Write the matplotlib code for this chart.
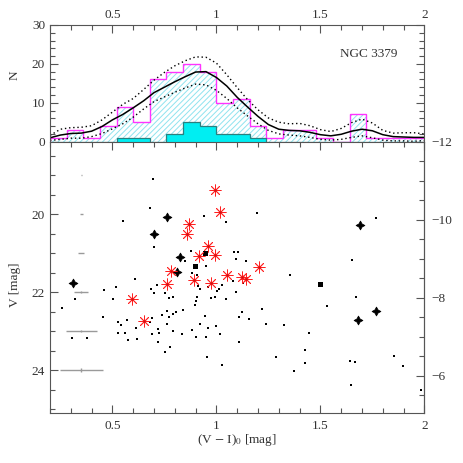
import numpy as np
import matplotlib
matplotlib.use('Agg')
import matplotlib.pyplot as plt
from matplotlib.ticker import MultipleLocator

plt.rcParams['font.family'] = ['Liberation Serif', 'DejaVu Serif']
plt.rcParams['mathtext.fontset'] = 'stix'
plt.rcParams['hatch.linewidth'] = 0.7
plt.rcParams['hatch.color'] = '#8fe3ef'

# histogram bins (V-I)_0, width 0.08
bin_edges = [0.20, 0.28, 0.36, 0.44, 0.52, 0.60, 0.68, 0.76, 0.84, 0.92, 1.00, 1.08,
             1.16, 1.24, 1.32, 1.40, 1.48, 1.56, 1.64, 1.72, 1.80, 1.88, 1.96, 2.04]
n_all = [1, 3, 1, 4, 9, 5, 16, 18, 20, 18, 10, 11, 4, 1, 3, 3, 1, 0, 7, 1, 1, 1, 1]
n_sel = [0, 0, 0, 0, 1, 1, 0, 2, 5, 4, 2, 2, 1, 0, 0, 0, 0, 0, 0, 0, 0, 0, 0]

# smoothed distribution and its bounds
x_curve = [0.20, 0.25, 0.30, 0.35, 0.40, 0.45, 0.50, 0.55, 0.60, 0.65, 0.70, 0.75,
           0.80, 0.85, 0.90, 0.95, 1.00, 1.05, 1.10, 1.15, 1.20, 1.25, 1.30, 1.35,
           1.40, 1.45, 1.50, 1.55, 1.60, 1.65, 1.70, 1.75, 1.80, 1.85, 1.90, 1.95, 2.00]
n_smooth = [1.0, 1.7, 2.1, 2.2, 2.7, 3.9, 5.6, 7.0, 8.7, 10.5, 12.6, 14.0,
            15.4, 16.7, 17.9, 18.0, 16.5, 14.3, 11.4, 8.9, 6.5, 4.4, 3.2, 2.9,
            2.8, 2.4, 1.8, 1.5, 1.9, 2.7, 3.2, 2.8, 1.8, 1.3, 1.2, 1.1, 1.1]
n_upper = [1.6, 3.2, 3.6, 3.7, 4.1, 5.6, 7.6, 9.6, 11.1, 13.4, 15.8, 17.8,
           19.5, 20.8, 21.8, 21.7, 20.2, 17.2, 13.9, 10.8, 8.2, 6.1, 5.0, 4.6,
           4.7, 4.1, 3.1, 2.6, 3.4, 4.9, 5.8, 4.8, 2.9, 2.2, 2.3, 2.3, 2.0]
n_lower = [0.3, 0.6, 0.9, 0.9, 1.3, 2.1, 3.3, 4.6, 6.3, 8.4, 10.3, 11.5,
           12.7, 13.8, 14.8, 14.6, 13.2, 11.1, 8.7, 6.6, 4.6, 2.9, 2.0, 1.7,
           1.5, 1.1, 0.6, 0.4, 0.6, 1.1, 1.5, 1.0, 0.4, 0.2, 0.2, 0.1, 0.3]

# colour-magnitude diagram: small dots
dot_vi = [0.695, 0.681, 0.549, 0.700, 0.611, 0.516, 0.462, 0.686, 0.714, 0.940,
          1.046, 1.195, 0.878, 1.086, 1.102, 1.093, 1.144, 0.850, 0.950, 0.881,
          0.905, 1.765, 1.650, 1.354, 1.669, 1.078, 1.129, 1.093, 1.218, 1.533,
          1.238, 1.325, 1.445, 1.426, 1.285, 1.425, 1.374, 1.642, 1.664, 1.854,
          1.896, 1.646, 1.983, 0.700, 0.753, 0.770, 0.789, 0.913, 0.919, 0.961,
          1.025, 1.014, 1.003, 0.905, 0.903, 0.895, 0.975, 0.993, 1.046, 1.123,
          1.109, 1.158, 0.839, 0.806, 0.789, 0.774, 0.762, 0.737, 0.692, 0.683,
          0.763, 0.945, 0.923, 0.960, 0.996, 0.883, 0.721, 0.724, 0.690, 0.790,
          0.836, 0.902, 0.949, 1.016, 1.108, 0.718, 0.778, 0.754, 0.955, 1.025,
          0.258, 0.320, 0.503, 0.455, 0.307, 0.379, 0.527, 0.541, 0.571, 0.613,
          0.527, 0.559, 0.574, 0.617]
dot_v = [19.10, 19.85, 20.18, 20.85, 21.67, 21.86, 21.94, 21.92, 21.81, 20.06,
         20.21, 19.97, 20.94, 20.97, 20.97, 21.15, 21.21, 21.20, 21.33, 21.51,
         21.56, 20.09, 21.19, 21.57, 22.14, 21.73, 21.78, 22.00, 22.43, 22.36,
         22.83, 22.85, 23.05, 23.49, 23.66, 23.83, 24.02, 23.77, 23.80, 23.65,
         23.90, 24.38, 24.51, 22.03, 22.03, 22.16, 22.14, 21.85, 21.91, 21.86,
         21.81, 21.91, 21.97, 22.12, 22.22, 22.32, 22.15, 22.13, 22.19, 22.51,
         22.65, 22.70, 22.47, 22.51, 22.56, 22.63, 22.49, 22.59, 22.67, 22.78,
         22.83, 22.62, 22.82, 22.93, 22.86, 22.97, 22.94, 23.04, 23.07, 22.99,
         23.07, 23.15, 23.15, 23.07, 23.29, 23.29, 23.42, 23.54, 23.67, 23.87,
         22.40, 22.19, 22.17, 22.65, 23.19, 23.17, 22.77, 22.84, 22.72, 22.92,
         23.04, 23.06, 23.24, 23.20]

# four-pointed stars
star_vi = [0.763, 0.701, 0.825, 0.811, 0.309, 1.691, 1.768, 1.683]
star_v = [20.07, 20.52, 21.10, 21.49, 21.78, 20.29, 22.49, 22.73]

# filled squares
sq_vi = [0.944, 0.897, 1.498]
sq_v = [21.01, 21.33, 21.79]

# red asterisks
ast_vi = [0.991, 1.018, 0.868, 0.860, 0.960, 0.915, 0.992, 0.782, 1.051, 0.891,
          0.973, 0.763, 1.125, 1.144, 1.205, 0.592, 0.653]
ast_v = [19.39, 19.95, 20.26, 20.52, 20.82, 21.07, 21.04, 21.46, 21.56, 21.68,
         21.78, 21.79, 21.61, 21.67, 21.36, 22.19, 22.74]

# typical photometric errors
err_v = [19, 20, 21, 22, 23, 24]
err_vi = [0.003, 0.008, 0.013, 0.034, 0.075, 0.103]
err_mag = [0.003, 0.005, 0.01, 0.02, 0.03, 0.05]
err_x = 0.35

dist_mod = 30.15

axcol = '#555555'
txtcol = '#333333'

fig = plt.figure(figsize=(4.63, 4.63), dpi=100)
ax_h = fig.add_axes([0.108, 0.694, 0.8086, 0.2521])
ax = fig.add_axes([0.108, 0.1086, 0.8086, 0.5853])

# ---- histogram panel ----
ax_h.stairs(n_all, bin_edges, fill=True, facecolor='none', edgecolor='#8fe3ef',
            hatch='//////', linewidth=0)
ax_h.stairs(n_all, bin_edges, color='#ff33ff', linewidth=1.0)
ax_h.stairs(n_sel, bin_edges, fill=True, facecolor='#00eef2', edgecolor='none')
ax_h.stairs(n_sel, bin_edges, color='#2b7f7f', linewidth=0.9)
ax_h.plot(x_curve, n_smooth, color='black', lw=1.1)
ax_h.plot(x_curve, n_upper, color='black', lw=1.0, linestyle=(0, (1, 2)))
ax_h.plot(x_curve, n_lower, color='black', lw=1.0, linestyle=(0, (1, 2)))
ax_h.set_xlim(0.2, 2.0)
ax_h.set_ylim(0, 30)
ax_h.xaxis.set_major_locator(MultipleLocator(0.5))
ax_h.xaxis.set_minor_locator(MultipleLocator(0.1))
ax_h.yaxis.set_major_locator(MultipleLocator(10))
ax_h.yaxis.set_minor_locator(MultipleLocator(2))
ax_h.tick_params(which='both', direction='in', top=True, bottom=False, right=True,
                 labeltop=True, labelbottom=False, colors=axcol, labelcolor=txtcol,
                 labelsize=9.5, width=0.8)
ax_h.tick_params(which='major', length=6)
ax_h.tick_params(which='minor', length=3.5)
ax_h.tick_params(axis='x', pad=3)
ax_h.xaxis.set_major_formatter(plt.FuncFormatter(lambda v, p: f'{v:g}'))
ax_h.text(0.85, 0.75, 'NGC 3379', transform=ax_h.transAxes, ha='center', va='center',
          fontsize=9.5, color=txtcol)
for s in ax_h.spines.values():
    s.set_color(axcol)
    s.set_linewidth(0.8)
ax_h.spines['bottom'].set_visible(False)

# ---- colour-magnitude diagram ----
ax.errorbar([err_x] * len(err_v), err_v, xerr=err_vi, yerr=err_mag, fmt='none',
            ecolor='#9a9a9a', elinewidth=1.0, capsize=0)
ax.plot(dot_vi, dot_v, 's', color='black', ms=1.5, mew=0)
ax.plot(sq_vi, sq_v, 's', color='black', ms=3.6, mew=0)
ax.plot(star_vi, star_v, marker=(4, 1, 0), linestyle='none', color='black', ms=6.5, mew=0.5)
ax.plot(ast_vi, ast_v, marker=(8, 2, 0), linestyle='none', color='#ff2020', ms=8.5, mew=0.6)
ax.plot(ast_vi, ast_v, 'o', color='#cc1010', ms=1.6, mew=0)
ax.set_xlim(0.2, 2.0)
ax.set_ylim(25.095, 18.146)
ax.xaxis.set_major_locator(MultipleLocator(0.5))
ax.xaxis.set_minor_locator(MultipleLocator(0.1))
ax.yaxis.set_major_locator(MultipleLocator(2))
ax.yaxis.set_minor_locator(MultipleLocator(0.5))
ax.xaxis.set_major_formatter(plt.FuncFormatter(lambda v, p: f'{v:g}'))
ax.tick_params(which='both', direction='in', top=True, colors=axcol, labelcolor=txtcol,
               labelsize=9.5, width=0.8)
ax.tick_params(which='major', length=6)
ax.tick_params(which='minor', length=3.5)
ax.tick_params(axis='x', pad=5)
for s in ax.spines.values():
    s.set_color(axcol)
    s.set_linewidth(0.8)

sec = ax.secondary_yaxis('right', functions=(lambda v: v - dist_mod, lambda m: m + dist_mod))
sec.yaxis.set_major_locator(MultipleLocator(2))
sec.yaxis.set_minor_locator(MultipleLocator(0.5))
sec.tick_params(which='both', direction='in', colors=axcol, labelcolor=txtcol,
                labelsize=9.5, width=0.8, pad=5)
sec.tick_params(which='major', length=6)
sec.tick_params(which='minor', length=3.5)
sec.spines['right'].set_color(axcol)
sec.spines['right'].set_linewidth(0.8)

fig.text(0.032, 0.838, 'N', rotation=90, ha='center', va='center', fontsize=9.5, color=txtcol)
fig.text(0.032, 0.384, 'V [mag]', rotation=90, ha='center', va='center', fontsize=9.5, color=txtcol)
fig.text(0.512, 0.050, r'(V $-$ I)$_0$ [mag]', ha='center', va='center', fontsize=9.5, color=txtcol)

plt.savefig('out.png', dpi=100)
